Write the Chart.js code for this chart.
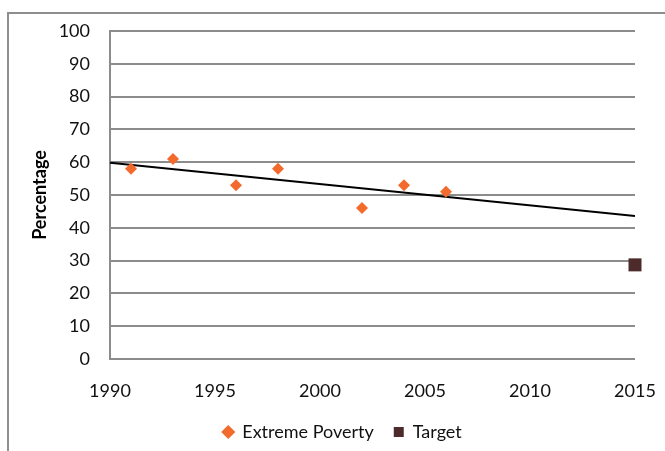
<!DOCTYPE html>
<html>
<head>
<meta charset="utf-8">
<script src="https://cdn.jsdelivr.net/npm/chart.js@4"></script>
<style>
  body{margin:0;background:#fff;}
  #wrap{position:relative;width:665px;height:451px;overflow:hidden;}
  #frame{position:absolute;left:7px;top:12px;width:700px;height:500px;border:2px solid #8e8e8e;}
  canvas{position:absolute;left:0;top:0;}
</style>
</head>
<body>
<div id="wrap">
  <div id="frame"></div>
  <canvas id="povertyChart" width="665" height="451"></canvas>
</div>
<script>
// data
const povertyYears = [1991, 1993, 1996, 1998, 2002, 2004, 2006];
const povertyValues = [58, 61, 53, 58, 46, 53, 51];
const targetYears = [2015];
const targetValues = [28.7];
const trendYears = [1990, 2015];
const trendValues = [59.8, 43.6];

const toPoints = (xs, ys) => xs.map((x, i) => ({x: x, y: ys[i]}));

const fontName = "Lato, 'Open Sans', sans-serif";

new Chart(document.getElementById("povertyChart"), {
  type: "scatter",
  data: {
    datasets: [
      {
        label: "Extreme Poverty",
        data: toPoints(povertyYears, povertyValues),
        pointStyle: "rectRot",
        pointRadius: 6,
        pointHoverRadius: 6,
        backgroundColor: "#f26a2c",
        borderColor: "#f26a2c",
        borderWidth: 0,
        order: 1
      },
      {
        label: "Target",
        data: toPoints(targetYears, targetValues),
        pointStyle: "rect",
        pointRadius: 9.2,
        pointHoverRadius: 9.2,
        backgroundColor: "#4d2b2b",
        borderColor: "#4d2b2b",
        borderWidth: 0,
        clip: false,
        order: 1
      },
      {
        label: "trend",
        type: "line",
        data: toPoints(trendYears, trendValues),
        borderColor: "#000",
        borderWidth: 2,
        pointRadius: 0,
        fill: false,
        order: 3
      }
    ]
  },
  options: {
    responsive: false,
    animation: false,
    layout: {padding: {left: 20, right: 0, top: 31, bottom: 0}},
    plugins: {
      tooltip: {enabled: false},
      legend: {
        position: "bottom",
        labels: {
          usePointStyle: true,
          boxWidth: 10,
          boxHeight: 10,
          padding: 20,
          color: "#111",
          font: {family: fontName, size: 18},
          filter: item => item.text !== "trend"
        }
      }
    },
    scales: {
      x: {
        type: "linear",
        min: 1990,
        max: 2015,
        ticks: {
          stepSize: 5,
          padding: 21,
          color: "#111",
          font: {family: fontName, size: 18},
          callback: v => String(v)
        },
        grid: {display: false, drawTicks: false},
        border: {display: false},
        afterFit: s => {
          s.height = 44;
          s.paddingLeft = 0;
          s.paddingRight = 30;
        }
      },
      y: {
        min: 0,
        max: 100,
        ticks: {
          stepSize: 10,
          padding: 20,
          color: "#111",
          font: {family: fontName, size: 18}
        },
        grid: {color: "#8c8c8c", lineWidth: 2, drawTicks: false},
        border: {display: true, color: "#8c8c8c", width: 2},
        title: {
          display: true,
          text: "Percentage",
          color: "#000",
          font: {family: fontName, size: 18, weight: "bold"},
          padding: {top: 9, bottom: 0}
        },
        afterFit: s => { s.width = 90; }
      }
    }
  }
});
</script>
</body>
</html>
